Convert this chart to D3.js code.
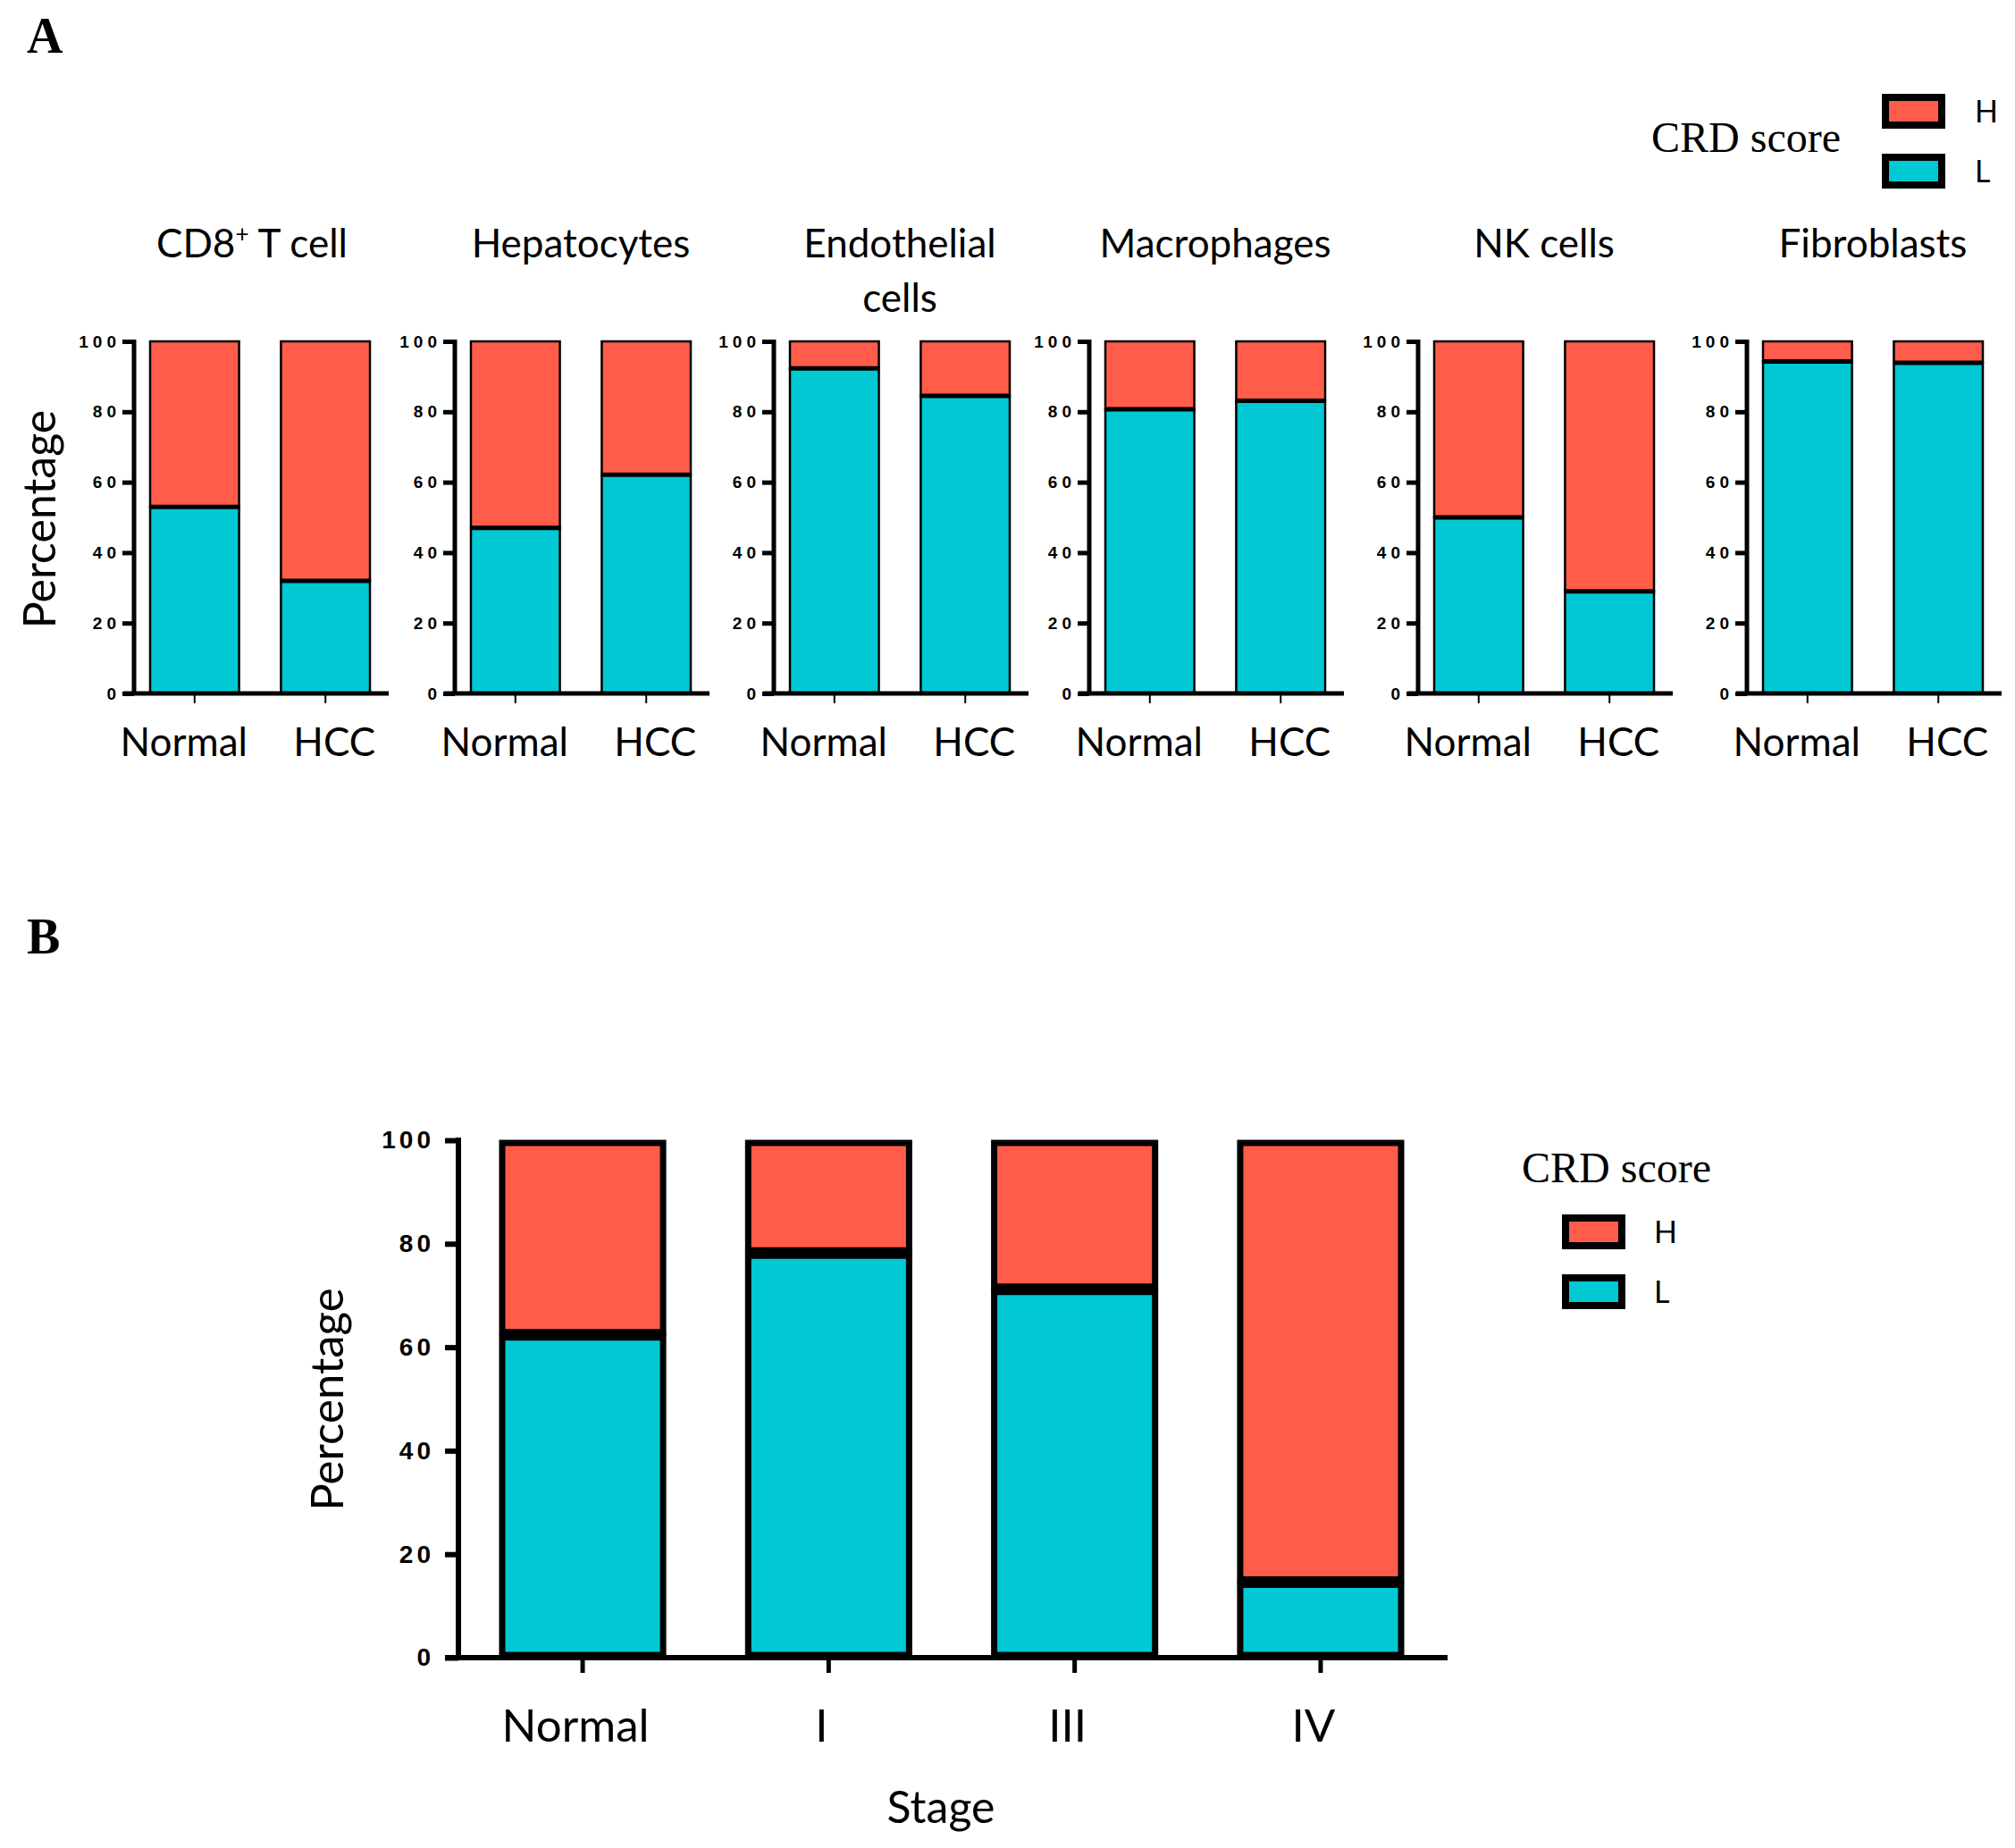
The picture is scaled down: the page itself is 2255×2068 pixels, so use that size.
<!DOCTYPE html>
<html>
<head>
<meta charset="utf-8">
<script src="https://cdn.jsdelivr.net/npm/d3@7"></script>
<style>
body { margin: 0; background: #fff; }
svg { display: block; }
</style>
</head>
<body>
<div id="chart"></div>
<script>
"use strict"

// panel A data: share of cells with low / high CRD score
var cellTypes = ['CD8+ T cell', 'Hepatocytes', 'Endothelial cells', 'Macrophages', 'NK cells', 'Fibroblasts'];
var groupsA = ['Normal', 'HCC'];
var lowA = [[53.0, 32.0], [47.0, 62.1], [92.3, 84.5], [80.7, 83.1], [50.0, 29.0], [94.3, 93.9]];
var highA = [[47.0, 68.0], [53.0, 37.9], [7.7, 15.5], [19.3, 16.9], [50.0, 71.0], [5.7, 6.1]];

// panel B data: by stage
var stagesB = ['Normal', 'I', 'III', 'IV'];
var lowB = [62.4, 78.2, 71.2, 14.6];
var highB = [37.6, 21.8, 28.8, 85.4];

var yTicks = [0, 20, 40, 60, 80, 100];
var scoreKeys = ['L', 'H'];
var scoreLabels = ['H', 'L'];

var colors = {H: '#FF5C4A', L: '#00C9D4'};
var sans = 'Lato, "Open Sans", sans-serif';
var serif = '"Liberation Serif", "Times New Roman", serif';
var numFont = '"Liberation Sans", Arial, sans-serif';

var svg = d3.select('#chart').append('svg')
    .attr('width', 2255)
    .attr('height', 2068);
svg.append('rect').attr('width', 2255).attr('height', 2068).attr('fill', '#fff');

// panel letters
svg.append('text').attr('x', 30).attr('y', 59).text('A')
    .style('font', 'bold 56px ' + serif);
svg.append('text').attr('x', 30).attr('y', 1067).text('B')
    .style('font', 'bold 56px ' + serif);

function stackRows(groups, low, high) {
    return groups.map(function(g, i) { return {name: g, L: low[i], H: high[i]}; });
}

// title at (tx, ty), boxes with outer top-left at (bx, by), labels at lx
function drawLegend(tx, ty, bx, by, lx) {
    var g = svg.append('g');
    g.append('text').attr('x', tx).attr('y', ty).text('CRD score')
        .style('font', '48px ' + serif);
    scoreLabels.forEach(function(k, i) {
        g.append('rect')
            .attr('x', bx + 4).attr('y', by + i * 67 + 4)
            .attr('width', 63).attr('height', 31)
            .attr('fill', colors[k]).attr('stroke', '#000').attr('stroke-width', 8);
        g.append('text').attr('x', lx).attr('y', by + i * 67 + 32)
            .text(k).style('font', '34px ' + sans);
    });
}

// ---------- panel A ----------
var axisXA = [150, 509, 866, 1219, 1587, 1955];
var topA = 382, bottomA = 776;
var yA = d3.scaleLinear().domain([0, 100]).range([bottomA, topA]);
var labelShift = [-12, 10];

cellTypes.forEach(function(name, p) {
    var x0 = axisXA[p];
    var x = d3.scaleBand().domain(groupsA).range([x0 + 18, x0 + 264]).paddingInner(0.32);
    var g = svg.append('g');
    var rows = stackRows(groupsA, lowA[p], highA[p]);
    var stacked = d3.stack().keys(scoreKeys)(rows);

    g.append('g')
        .selectAll('g')
        .data(stacked)
        .enter()
        .append('g')
        .attr('fill', function(d) { return colors[d.key]; })
        .selectAll('rect')
        .data(function(d) { return d; })
        .enter()
        .append('rect')
        .attr('x', function(d) { return x(d.data.name); })
        .attr('y', function(d) { return yA(d[1]); })
        .attr('width', x.bandwidth())
        .attr('height', function(d) { return yA(d[0]) - yA(d[1]); })
        .attr('stroke', '#000')
        .attr('stroke-width', 2.5);

    // thick line where L meets H
    g.selectAll('line.split')
        .data(rows)
        .enter()
        .append('line')
        .attr('x1', function(d) { return x(d.name) - 1; })
        .attr('x2', function(d) { return x(d.name) + x.bandwidth() + 1; })
        .attr('y1', function(d) { return yA(d.L); })
        .attr('y2', function(d) { return yA(d.L); })
        .attr('stroke', '#000').attr('stroke-width', 5);

    // y axis
    var ya = g.append('g')
        .attr('transform', 'translate(' + x0 + ',0)')
        .call(d3.axisLeft(yA).tickValues(yTicks).tickSize(13).tickPadding(2));
    ya.select('.domain').attr('stroke-width', 5).attr('d', 'M0,' + (topA - 2) + 'V' + (bottomA + 2));
    ya.selectAll('.tick line').attr('stroke-width', 5);
    ya.selectAll('.tick text')
        .style('font', 'bold 19px ' + numFont)
        .style('letter-spacing', '5px');

    // x axis
    g.append('line')
        .attr('x1', x0 - 12).attr('x2', x0 + 285)
        .attr('y1', bottomA).attr('y2', bottomA)
        .attr('stroke', '#000').attr('stroke-width', 5);
    var xa = g.append('g')
        .attr('transform', 'translate(0,' + (bottomA + 2) + ')')
        .call(d3.axisBottom(x).tickSize(9).tickSizeOuter(0).tickFormat(''));
    xa.select('.domain').remove();
    xa.selectAll('.tick line').attr('stroke-width', 2);

    g.selectAll('text.xl')
        .data(groupsA)
        .enter()
        .append('text')
        .attr('x', function(d, i) { return x(d) + x.bandwidth() / 2 + labelShift[i]; })
        .attr('y', 846)
        .attr('text-anchor', 'middle')
        .style('font', '44px ' + sans)
        .text(function(d) { return d; });

    // title
    var cx = (x0 + 18 + x0 + 264) / 2;
    var t = g.append('text').attr('x', cx).attr('y', 288)
        .attr('text-anchor', 'middle').style('font', '44px ' + sans);
    if (name.indexOf('+') > 0) {
        var parts = name.split('+');
        t.attr('x', cx - 9);
        t.append('tspan').text(parts[0]);
        t.append('tspan').text('+').style('font-size', '26px').attr('dy', -17);
        t.append('tspan').text(parts[1]).attr('dy', 17);
    } else if (name == 'Endothelial cells') {
        t.text('Endothelial');
        g.append('text').attr('x', cx).attr('y', 349)
            .attr('text-anchor', 'middle').style('font', '44px ' + sans).text('cells');
    } else {
        t.text(name);
    }
});

svg.append('text')
    .attr('transform', 'translate(62,581) rotate(-90)')
    .attr('text-anchor', 'middle')
    .style('font', '50px ' + sans)
    .text('Percentage');

drawLegend(1848, 170, 2106, 105, 2210);

// ---------- panel B ----------
var topB = 1276, bottomB = 1855, axisXB = 513;
var yB = d3.scaleLinear().domain([0, 100]).range([bottomB, topB]);
var xB = d3.scaleBand().domain(stagesB).range([559, 1571]).paddingInner(0.324);
var rowsB = stackRows(stagesB, lowB, highB);
var stackedB = d3.stack().keys(scoreKeys)(rowsB);
var gB = svg.append('g');

gB.append('g')
    .selectAll('g')
    .data(stackedB)
    .enter()
    .append('g')
    .attr('fill', function(d) { return colors[d.key]; })
    .selectAll('rect')
    .data(function(d) { return d; })
    .enter()
    .append('rect')
    .attr('x', function(d) { return xB(d.data.name) + 3; })
    .attr('y', function(d) { return yB(d[1]) + 3; })
    .attr('width', xB.bandwidth() - 6)
    .attr('height', function(d) { return yB(d[0]) - yB(d[1]) - 6; })
    .attr('stroke', '#000')
    .attr('stroke-width', 7);

gB.selectAll('line.split')
    .data(rowsB)
    .enter()
    .append('line')
    .attr('x1', function(d) { return xB(d.name); })
    .attr('x2', function(d) { return xB(d.name) + xB.bandwidth(); })
    .attr('y1', function(d) { return yB(d.L); })
    .attr('y2', function(d) { return yB(d.L); })
    .attr('stroke', '#000').attr('stroke-width', 9);

var yaB = gB.append('g')
    .attr('transform', 'translate(' + axisXB + ',0)')
    .call(d3.axisLeft(yB).tickValues(yTicks).tickSize(15).tickPadding(12));
yaB.select('.domain').attr('stroke-width', 6).attr('d', 'M0,' + (topB - 3) + 'V' + (bottomB + 3));
yaB.selectAll('.tick line').attr('stroke-width', 6);
yaB.selectAll('.tick text')
    .style('font', 'bold 28px ' + numFont)
    .style('letter-spacing', '4px');

gB.append('line')
    .attr('x1', 498).attr('x2', 1620)
    .attr('y1', bottomB).attr('y2', bottomB)
    .attr('stroke', '#000').attr('stroke-width', 6);
var xaB = gB.append('g')
    .attr('transform', 'translate(0,' + (bottomB + 3) + ')')
    .call(d3.axisBottom(xB).tickSize(14).tickSizeOuter(0).tickFormat(''));
xaB.select('.domain').remove();
xaB.selectAll('.tick line').attr('stroke-width', 5);

gB.selectAll('text.xl')
    .data(stagesB)
    .enter()
    .append('text')
    .attr('x', function(d) { return xB(d) + xB.bandwidth() / 2 - 8; })
    .attr('y', 1949)
    .attr('text-anchor', 'middle')
    .style('font', '51px ' + sans)
    .text(function(d) { return d; });

gB.append('text')
    .attr('x', 1053).attr('y', 2040)
    .attr('text-anchor', 'middle')
    .style('font', '50px ' + sans)
    .text('Stage');

svg.append('text')
    .attr('transform', 'translate(384,1566) rotate(-90)')
    .attr('text-anchor', 'middle')
    .style('font', '51px ' + sans)
    .text('Percentage');

drawLegend(1703, 1323, 1748, 1359, 1851);
</script>
</body>
</html>
